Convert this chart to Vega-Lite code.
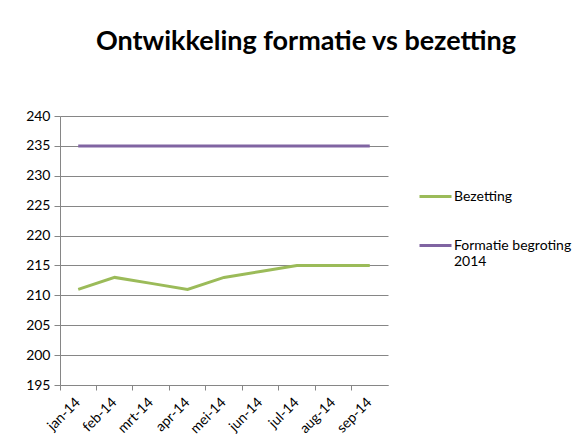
{
  "$schema": "https://vega.github.io/schema/vega-lite/v6.json",
  "autosize": "none",
  "width": 328,
  "height": 269,
  "padding": {"left": 60, "top": 116, "right": 200, "bottom": 63},
  "background": "white",
  "title": {
    "text": "Ontwikkeling formatie vs bezetting",
    "font": "Lato",
    "fontSize": 27,
    "fontWeight": "bold",
    "color": "#000000",
    "anchor": "middle",
    "dx": 82,
    "offset": 53
  },
  "data": {
    "values": [
      {"maand": "jan-14", "reeks": "Bezetting", "waarde": 211},
      {"maand": "feb-14", "reeks": "Bezetting", "waarde": 213},
      {"maand": "mrt-14", "reeks": "Bezetting", "waarde": 212},
      {"maand": "apr-14", "reeks": "Bezetting", "waarde": 211},
      {"maand": "mei-14", "reeks": "Bezetting", "waarde": 213},
      {"maand": "jun-14", "reeks": "Bezetting", "waarde": 214},
      {"maand": "jul-14", "reeks": "Bezetting", "waarde": 215},
      {"maand": "aug-14", "reeks": "Bezetting", "waarde": 215},
      {"maand": "sep-14", "reeks": "Bezetting", "waarde": 215},
      {"maand": "jan-14", "reeks": "Formatie begroting 2014", "waarde": 235},
      {"maand": "feb-14", "reeks": "Formatie begroting 2014", "waarde": 235},
      {"maand": "mrt-14", "reeks": "Formatie begroting 2014", "waarde": 235},
      {"maand": "apr-14", "reeks": "Formatie begroting 2014", "waarde": 235},
      {"maand": "mei-14", "reeks": "Formatie begroting 2014", "waarde": 235},
      {"maand": "jun-14", "reeks": "Formatie begroting 2014", "waarde": 235},
      {"maand": "jul-14", "reeks": "Formatie begroting 2014", "waarde": 235},
      {"maand": "aug-14", "reeks": "Formatie begroting 2014", "waarde": 235},
      {"maand": "sep-14", "reeks": "Formatie begroting 2014", "waarde": 235}
    ]
  },
  "mark": {"type": "line", "strokeWidth": 3},
  "encoding": {
    "x": {
      "field": "maand",
      "type": "ordinal",
      "sort": null,
      "scale": {"type": "band", "paddingInner": 0, "paddingOuter": 0},
      "axis": {
        "title": null,
        "labelAngle": -45,
        "labelAlign": "right",
        "labelBaseline": "middle",
        "labelFont": "Lato",
        "labelFontSize": 14,
        "labelColor": "#000000",
        "labelPadding": 10,
        "bandPosition": 0,
        "labelBound": false,
        "ticks": true,
        "tickSize": 5,
        "tickColor": "#868686",
        "domainColor": "#868686",
        "grid": false
      }
    },
    "y": {
      "field": "waarde",
      "type": "quantitative",
      "scale": {"domain": [195, 240], "zero": false, "nice": false},
      "axis": {
        "title": null,
        "values": [195, 200, 205, 210, 215, 220, 225, 230, 235, 240],
        "labelFont": "Lato",
        "labelFontSize": 14,
        "labelColor": "#000000",
        "labelPadding": 4,
        "tickSize": 6,
        "tickColor": "#868686",
        "domainColor": "#868686",
        "grid": true,
        "gridColor": "#868686",
        "gridWidth": 1
      }
    },
    "color": {
      "field": "reeks",
      "type": "nominal",
      "scale": {"domain": ["Bezetting", "Formatie begroting 2014"], "range": ["#9BBB59", "#8064A2"]},
      "legend": {
        "title": null,
        "orient": "none",
        "legendX": 358,
        "legendY": 63,
        "symbolType": "stroke",
        "symbolSize": 1024,
        "symbolStrokeWidth": 3,
        "labelFont": "Lato",
        "labelFontSize": 14,
        "labelColor": "#000000",
        "labelOffset": 1,
        "rowPadding": 24,
        "labelLimit": 200,
        "labelExpr": "datum.label == 'Formatie begroting 2014' ? ['Formatie begroting', '2014'] : datum.label"
      }
    }
  },
  "config": {
    "view": {"stroke": null}
  }
}
